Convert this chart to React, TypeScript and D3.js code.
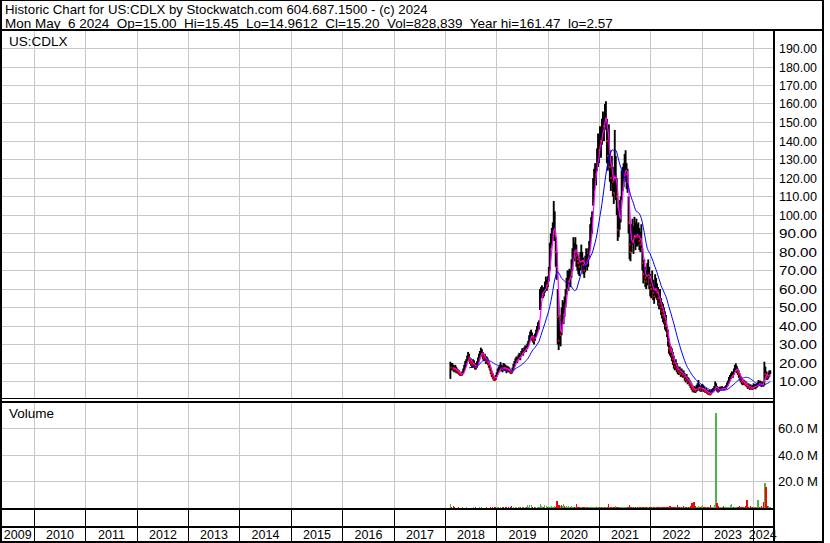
import React, { useLayoutEffect, useRef, useState } from 'react';
import * as d3 from 'd3';

const titleLine1 = 'Historic Chart for US:CDLX by Stockwatch.com 604.687.1500 - (c) 2024';
const titleLine2 = 'Mon May  6 2024  Op=15.00  Hi=15.45  Lo=14.9612  Cl=15.20  Vol=828,839  Year hi=161.47  lo=2.57';
const symbolLabel = 'US:CDLX';
const volumeLabel = 'Volume';
const yearLabels = [2009, 2010, 2011, 2012, 2013, 2014, 2015, 2016, 2017, 2018, 2019, 2020, 2021, 2022, 2023, 2024];
const priceTicks = [10, 20, 30, 40, 50, 60, 70, 80, 90, 100, 110, 120, 130, 140, 150, 160, 170, 180, 190];
const volumeTicks = [20, 40, 60];
const firstWeek = [2018, 1, 9];

const weekClose = [
  18, 17.5, 18, 17, 16.5, 17, 16, 15.5, 15, 14.5,
  14, 13.5, 14, 15.5, 17, 19, 20, 22, 24, 23,
  21, 20, 19, 20.5, 19, 18, 17.5, 19, 21, 23,
  25, 27, 25, 24, 22.5, 23, 21, 22, 20.5, 19,
  17, 15, 14, 12.5, 11.5, 11, 12.5, 14, 15.5, 16,
  17, 18, 17, 16.5, 18, 17.5, 17, 16, 17, 16.5,
  16, 15, 14.8, 16, 18, 19.5, 21, 22, 21.5, 23,
  24, 23, 25, 26.5, 25.5, 27, 28, 27.5, 29, 30,
  33, 35, 36, 34, 33, 32, 34, 36, 38, 39,
  41, 56, 58, 60, 57, 59, 61, 63, 62, 64,
  70, 80, 86, 88, 92, 100, 90, 80, 72, 45,
  32, 38, 35, 42, 48, 46, 52, 55, 62, 65,
  64, 68, 66, 72, 78, 82, 80, 84, 78, 76,
  74, 72, 76, 78, 75, 73, 70, 74, 77, 75,
  78, 82, 90, 95, 98, 116, 120, 124, 122, 130,
  138, 135, 142, 140, 146, 150, 148, 155, 158, 140,
  132, 136, 126, 120, 124, 118, 112, 130, 120, 110,
  92, 95, 100, 104, 118, 120, 122, 125, 128, 122,
  118, 96, 84, 80, 88, 90, 85, 92, 88, 90,
  88, 90, 86, 84, 88, 74, 68, 70, 66, 64,
  68, 72, 66, 62, 60, 64, 58, 56, 62, 60,
  58, 55, 52, 54, 50, 48, 46, 45, 42, 40,
  36, 32, 28, 27, 26, 24, 22, 20, 18, 19,
  17, 16, 15, 16.5, 14, 15, 13.5, 14, 12.5, 11,
  12, 10, 10.5, 9, 8, 7, 6, 5.5, 6, 5,
  6, 7, 8, 6.5, 5.5, 6, 7, 6, 5, 4.5,
  5, 4, 3.5, 4, 3, 4, 4.5, 5, 6, 8.5,
  7, 5.5, 5, 5.5, 6, 6, 6.5, 6, 6, 6.5,
  7, 8, 9, 11, 12, 13, 14, 13, 15, 17,
  18, 16, 15, 14, 12, 11, 10, 9.5, 10, 8.8,
  8.5, 8, 7, 7.5, 6.5, 7, 6, 6.5, 7.5, 7,
  7.5, 8, 8.2, 9, 8.5, 9, 8, 8.5, 8, 17,
  14, 13, 12, 13, 14, 15.2,
];

const weekHigh = [
  20.7, 20, 20, 19, 18.5, 19, 18, 17, 16.5, 16,
  15, 14.5, 15.5, 17, 19, 21, 22, 24, 26, 25,
  23, 22.5, 21, 22, 21.5, 20, 19.5, 21, 23, 25,
  26.5, 28.3, 27.5, 26, 24.5, 25, 23.5, 23.5, 22.5, 21,
  19, 17.5, 15.5, 14.5, 13, 12.5, 13.5, 15, 17, 18,
  19, 20.5, 19, 18.5, 20, 19.5, 19, 18, 18.5, 18,
  17.5, 16.5, 16, 17.5, 19.5, 21, 22.5, 23.5, 23, 24.5,
  25.5, 24.5, 26.5, 28, 27, 28.5, 29.5, 29, 30.5, 32,
  35, 37, 38, 36.5, 35, 34, 36, 38, 40, 42,
  43, 60, 61, 62, 60, 61, 64, 66.7, 65, 67,
  72, 85, 90, 93, 96, 107.6, 102, 88, 80, 60,
  45, 46, 44, 50, 54, 53, 56, 60, 66, 70,
  70, 71, 70, 76, 82, 88, 85, 88, 84, 80,
  78, 76, 80, 84, 80, 77, 74, 78, 82, 79,
  82, 86, 95, 99, 102, 120, 125, 128, 127, 136,
  144, 142, 148, 146, 152, 156, 153, 160, 161.5, 152,
  145, 149, 135, 128, 132, 126, 120, 146, 132, 120,
  104, 102, 108, 110, 124, 126, 128, 133, 135, 128,
  125, 110, 95, 90, 95, 98, 94, 99, 96, 98,
  95, 96, 93, 91, 95, 82, 75.7, 76, 72, 70,
  74, 76, 72, 68, 66, 70, 65, 62, 68, 66,
  63, 61, 58, 60, 55, 53, 52, 50, 48, 46,
  40, 38, 33, 30, 29, 28, 26, 24, 21, 22,
  20, 18.5, 17.5, 18, 16.5, 17, 15.5, 16, 14.5, 13,
  14, 12.5, 12, 11, 10, 9, 8, 7, 7.5, 7,
  8, 9, 10.8, 8.5, 7.5, 8, 8.7, 8, 7, 6,
  6.5, 5.5, 5, 5.5, 4.5, 5.5, 6, 6.5, 7.5, 10,
  9, 7.5, 6.5, 7, 7.3, 7, 7.5, 7, 7, 7.5,
  8, 9.5, 10.5, 12.5, 13.5, 14.5, 15.5, 15, 17, 19,
  19.8, 18.5, 17, 16, 14.4, 13, 12, 11, 11, 10.5,
  10, 9.5, 8.5, 9, 8, 8.5, 7.5, 8, 9, 8.5,
  8.5, 9, 9.5, 10.8, 10, 10.5, 9.5, 10, 9.5, 20.7,
  18, 15.5, 14, 15, 16, 16,
];

const weekLow = [
  11.4, 16, 16.5, 15.5, 15, 15.5, 14.5, 14.5, 14, 13.5,
  13, 13, 13.2, 14, 15.5, 17, 18.5, 20, 22, 21,
  19.5, 18.5, 17.5, 18.5, 17.5, 16.5, 16.5, 17.5, 19, 21,
  23.5, 24.5, 23.5, 22, 21, 21.5, 19.5, 20, 19, 17.5,
  16, 14, 12.5, 11.5, 10.5, 10.3, 10.8, 12.5, 14, 15,
  15.5, 16.5, 15.5, 15, 16, 16, 15.5, 14.5, 15.5, 15,
  15, 14.2, 14, 14.8, 16, 18, 19.5, 20.5, 20, 21.5,
  22.5, 21.5, 23.5, 25, 24, 25.5, 26.5, 26, 27.5, 28.5,
  31, 33, 34, 32, 31, 30, 32, 34, 36, 37,
  38, 48.6, 55, 57, 55, 56, 58, 60, 59, 61,
  64, 70, 82, 84, 86, 92, 86, 72, 65, 30,
  27, 30, 29, 35, 41, 41, 45, 50, 57, 60,
  59, 62, 61, 66, 70, 76, 75, 78, 72, 70,
  68, 67, 70, 73, 70, 68, 66, 69, 72, 70,
  72, 77, 82, 88, 90, 105, 113, 118, 116, 124,
  126, 128, 132, 131, 138, 142, 140, 146, 148, 128,
  124, 128, 118, 113, 117, 110, 106, 112, 108, 100,
  86, 88, 92, 96, 108, 113, 115, 118, 120, 114,
  112, 90, 76, 75, 80, 84, 79, 85, 81, 83,
  83, 84, 81, 80, 82, 70, 63, 65, 61, 60,
  62, 66, 60, 56, 55, 58, 54, 52, 56, 55,
  54, 51, 49, 50, 46, 44, 42, 41, 38, 37,
  34, 29, 25, 24, 23, 21, 19, 17, 16, 16.5,
  15, 14, 13.5, 14.5, 12.5, 13, 12, 12.5, 10.5, 9.5,
  10.5, 8.5, 9, 7.5, 6.5, 5.5, 4.5, 4, 4.5, 3.8,
  4.5, 5, 6, 5, 4.5, 4.5, 5.5, 4.5, 4.3, 3.8,
  4, 3.2, 2.8, 3, 2.57, 3, 3.8, 4.2, 4.8, 6,
  5.5, 4.5, 4, 4.5, 5.5, 5.5, 5.8, 5.5, 5.5, 5.8,
  6, 7, 8, 9.5, 10.5, 11.5, 12.5, 12, 13.5, 15,
  16, 14.5, 13.5, 12, 10.5, 9.5, 8.5, 8, 8.5, 8,
  7.5, 7, 6, 6.5, 5.5, 6, 5.4, 5.5, 6.5, 6,
  5.8, 6.5, 7, 8, 7.5, 8, 7, 7.5, 7.2, 8,
  12, 11, 10.8, 11.5, 12.5, 14,
];

// weekly volume, millions of shares
const weekVolume = [
  3.0, 0.9, 0.3, 1.2, 0.4, 0.3, 0.2, 0.3, 0.4, 0.3,
  0.3, 0.2, 0.4, 0.3, 0.2, 0.3, 0.4, 0.2, 0.3, 0.3,
  0.3, 0.2, 0.3, 0.4, 0.3, 1.0, 0.3, 0.2, 0.3, 0.4,
  0.3, 0.4, 0.3, 0.2, 0.3, 0.3, 0.4, 0.3, 0.2, 0.3,
  0.4, 0.3, 0.5, 0.3, 0.4, 0.9, 0.3, 1.0, 0.4, 0.3,
  0.9, 0.3, 1.0, 0.4, 0.3, 0.9, 0.3, 0.4, 0.3, 1.0,
  0.3, 0.4, 1.8, 0.3, 0.4, 0.3, 1.0, 0.4, 0.3, 0.9,
  0.4, 1.1, 0.3, 0.4, 1.0, 0.3, 1.1, 0.4, 2.2, 0.4,
  2.4, 0.3, 2.0, 0.4, 0.3, 1.0, 0.4, 0.3, 0.9, 0.4,
  0.4, 3.0, 1.2, 0.4, 1.0, 2.2, 0.3, 1.4, 0.4, 0.9,
  0.5, 1.0, 1.2, 0.4, 1.1, 1.5, 0.6, 5.3, 1.8, 2.4,
  2.0, 1.6, 2.2, 1.2, 2.8, 1.5, 1.1, 1.8, 0.9, 1.2,
  1.0, 1.1, 0.4, 1.4, 0.9, 0.6, 1.1, 0.5, 3.0, 1.0,
  0.6, 0.4, 1.1, 0.4, 1.0, 1.1, 0.6, 1.1, 0.5, 1.0,
  0.4, 1.1, 0.4, 0.9, 1.1, 1.1, 1.0, 0.5, 0.4, 1.0,
  0.4, 1.0, 0.5, 1.1, 0.4, 1.0, 0.6, 1.1, 0.9, 1.0,
  3.0, 1.1, 1.0, 0.4, 1.1, 0.5, 1.1, 1.5, 0.9, 0.6,
  1.0, 0.5, 1.1, 0.9, 0.4, 1.0, 1.1, 0.6, 1.0, 0.5,
  1.1, 2.6, 0.9, 0.6, 1.0, 0.4, 1.1, 0.5, 0.9, 1.0,
  0.4, 1.0, 0.6, 1.1, 0.4, 1.0, 1.0, 0.9, 1.1, 0.5,
  1.0, 1.1, 1.0, 0.4, 1.1, 0.5, 1.0, 0.4, 0.9, 1.0,
  0.5, 1.0, 0.4, 1.1, 1.0, 0.5, 1.1, 1.0, 0.4, 1.0,
  1.1, 1.0, 1.2, 1.4, 1.0, 1.1, 0.9, 1.1, 1.0, 0.9,
  2.0, 1.0, 0.9, 1.1, 1.0, 0.9, 1.2, 1.0, 0.9, 1.1,
  1.0, 1.1, 0.9, 1.4, 3.4, 1.1, 4.3, 1.2, 1.0, 1.6,
  1.1, 0.9, 1.6, 1.0, 0.9, 1.8, 2.6, 1.1, 1.0, 1.1,
  1.0, 1.1, 0.9, 1.1, 2.2, 1.0, 1.1, 0.9, 2.6, 71.5,
  3.5, 3.0, 1.2, 1.1, 1.0, 1.1, 1.0, 1.6, 1.1, 0.9,
  1.0, 1.1, 0.9, 1.1, 2.4, 2.8, 1.1, 1.0, 1.1, 1.0,
  1.1, 1.0, 1.1, 1.2, 1.0, 1.1, 1.1, 1.0, 1.1, 1.2,
  6.0, 1.1, 1.0, 1.1, 1.2, 1.0, 1.0, 1.1, 1.1, 1.0,
  1.1, 6.0, 1.2, 1.1, 1.0, 1.1, 1.4, 1.1, 4.5, 18.6,
  16.0, 3.0, 1.5, 1.2, 1.1, 0.9,
];

const FONT = "'Liberation Sans', Arial, Helvetica, sans-serif";
const GRID = '#c8c8c8';
const UP_GREEN = '#46b946';
const DOWN_RED = '#ff0000';

// text stretched horizontally so that it spans a given width
function FitText(props: { x: number; y: number; width: number; fontSize: number; text: string }) {
  const ref = useRef<SVGTextElement>(null);
  const [sx, setSx] = useState(1);
  useLayoutEffect(() => {
    const el = ref.current;
    if (el) {
      const w = el.getComputedTextLength();
      if (w > 0) setSx(props.width / w);
    }
  }, [props.width, props.text, props.fontSize]);
  return (
    <text
      ref={ref}
      x={0}
      y={0}
      transform={`translate(${props.x},${props.y}) scale(${sx},1)`}
      fontSize={props.fontSize}
      fill="#000"
      xmlSpace="preserve"
      style={{ whiteSpace: 'pre' }}
    >
      {props.text}
    </text>
  );
}

export default function App() {
  const W = 830;
  const H = 543;
  const frameRight = 823;
  const plotRight = 773;

  const x = d3.scaleTime().domain([new Date(2010, 0, 1), new Date(2024, 0, 1)]).range([34, 753]);
  const yP = d3.scaleLinear().domain([0, 200]).range([400, 30]);
  const yV = d3.scaleLinear().domain([0, 80]).range([508, 402]);

  const start = new Date(firstWeek[0], firstWeek[1], firstWeek[2]);
  const weeks = weekClose.map((c, i) => ({
    date: d3.timeDay.offset(start, 7 * i),
    c,
    h: weekHigh[i],
    l: weekLow[i],
    v: weekVolume[i],
    up: i === 0 || c >= weekClose[i - 1],
  }));

  const sma = (n: number) =>
    weeks.map((d, i) => (i < n - 1 ? null : (d3.mean(weekClose.slice(i - n + 1, i + 1)) as number)));
  const maShort = sma(4);
  const maLong = sma(20);

  const lineGen = d3
    .line<{ date: Date; m: number | null }>()
    .defined((d) => d.m !== null)
    .x((d) => x(d.date))
    .y((d) => yP(d.m as number));

  const shortPath = lineGen(weeks.map((d, i) => ({ date: d.date, m: maShort[i] }))) || '';
  const longPath = lineGen(weeks.map((d, i) => ({ date: d.date, m: maLong[i] }))) || '';

  const gridYears = d3.range(2010, 2025).map((yr) => Math.round(x(new Date(yr, 0, 1))) + 0.5);
  const yearCells = yearLabels.map((yr, i) => {
    const left = i === 0 ? 1 : gridYears[i - 1];
    const right = i < gridYears.length ? gridYears[i] : 772;
    return { yr, cx: (left + right) / 2 };
  });

  return (
    <svg
      width={W}
      height={H}
      viewBox={`0 0 ${W} ${H}`}
      style={{ position: 'absolute', left: 0, top: 0, background: '#fff' }}
      fontFamily={FONT}
    >
      <rect x={0} y={0} width={W} height={H} fill="#fff" />

      <g shapeRendering="crispEdges" stroke={GRID} strokeWidth={1}>
        {gridYears.map((gx, i) => (
          <line key={'vg' + i} x1={gx} x2={gx} y1={31} y2={398} />
        ))}
        {priceTicks.map((t) => {
          const yy = Math.floor(yP(t)) + 0.5;
          return <line key={'hg' + t} x1={1} x2={plotRight} y1={yy} y2={yy} />;
        })}
        {gridYears.map((gx, i) => (
          <line key={'vgv' + i} x1={gx} x2={gx} y1={403} y2={508} />
        ))}
        {volumeTicks.map((t) => {
          const yy = Math.floor(yV(t)) + 0.5;
          return <line key={'vh' + t} x1={1} x2={plotRight} y1={yy} y2={yy} />;
        })}
      </g>

      <g shapeRendering="crispEdges">
        {weeks.map((d, i) => (
          <rect
            key={'v' + i}
            x={Math.round(x(d.date)) - 0.5}
            y={yV(d.v)}
            width={d.v > 3 ? 2 : 1.5}
            height={Math.max(0, yV(0) - yV(d.v))}
            fill={d.up ? UP_GREEN : DOWN_RED}
          />
        ))}
      </g>

      <g>
        {weeks.map((d, i) => (
          <line
            key={'b' + i}
            x1={x(d.date)}
            x2={x(d.date)}
            y1={yP(d.h)}
            y2={yP(d.l)}
            stroke="#000"
            strokeWidth={1.9}
          />
        ))}
        {weeks.map((d, i) =>
          d.up ? null : (
            <rect key={'r' + i} x={x(d.date) - 0.8} y={yP(d.c) - 1} width={1.6} height={2} fill={DOWN_RED} />
          )
        )}
      </g>

      <path d={shortPath} fill="none" stroke="#ff00ff" strokeWidth={1.2} />
      <path d={longPath} fill="none" stroke="#0000ff" strokeWidth={1} />

      <g shapeRendering="crispEdges" fill="#000">
        <rect x={0} y={0} width={frameRight} height={1} />
        <rect x={0} y={0} width={2} height={H} />
        <rect x={frameRight - 1} y={0} width={1.5} height={H} />
        <rect x={0} y={29} width={frameRight} height={2} />
        <rect x={plotRight} y={29} width={2} height={H - 29} />
        <rect x={0} y={398} width={plotRight} height={1} />
        <rect x={0} y={401} width={plotRight} height={2} />
        <rect x={0} y={508} width={plotRight} height={2} />
        <rect x={0} y={526} width={plotRight} height={2} />
        <rect x={0} y={541} width={frameRight} height={2} />
        {gridYears.map((gx, i) => (
          <rect key={'dl' + i} x={gx - 0.5} y={510} width={1} height={31} />
        ))}
      </g>

      <FitText x={5} y={13.5} width={423} fontSize={13} text={titleLine1} />
      <FitText x={5} y={27.5} width={608} fontSize={13} text={titleLine2} />

      <text x={9} y={46} fontSize={13.5} fill="#000">{symbolLabel}</text>
      <text x={9} y={418} fontSize={13.5} fill="#000">{volumeLabel}</text>

      {priceTicks.map((t) => (
        <FitText key={'pl' + t} x={779} y={Math.floor(yP(t)) + 5} width={38} fontSize={13} text={d3.format('.2f')(t)} />
      ))}
      {volumeTicks.map((t) => (
        <FitText key={'vl' + t} x={778} y={Math.floor(yV(t)) + 5} width={40} fontSize={13} text={d3.format('.1f')(t) + ' M'} />
      ))}
      <g fontSize={12.5} fill="#000" textAnchor="middle">
        {yearCells.map((c) => (
          <text key={'yl' + c.yr} x={c.cx} y={539}>
            {c.yr}
          </text>
        ))}
      </g>
    </svg>
  );
}
